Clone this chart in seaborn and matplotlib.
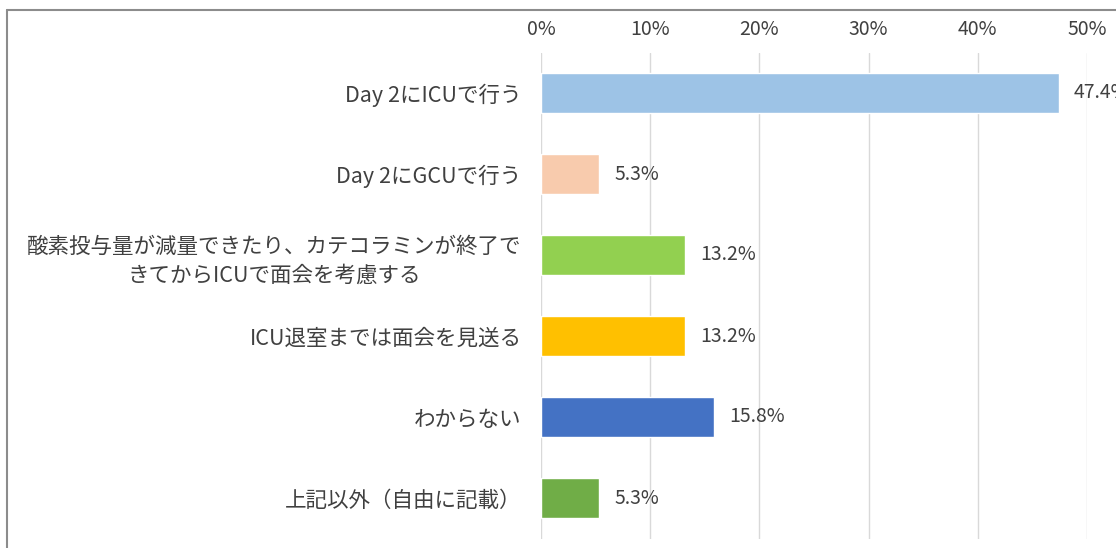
import matplotlib
matplotlib.use("Agg")
import matplotlib.pyplot as plt
from matplotlib.lines import Line2D
from matplotlib.ticker import FuncFormatter
import seaborn as sns
import pandas as pd

categories = [
    "Day 2にICUで行う",
    "Day 2にGCUで行う",
    "酸素投与量が減量できたり、カテコラミンが終了で\nきてからICUで面会を考慮する",
    "ICU退室までは面会を見送る",
    "わからない",
    "上記以外（自由に記載）",
]
values = [47.4, 5.3, 13.2, 13.2, 15.8, 5.3]
value_labels = ["47.4%", "5.3%", "13.2%", "13.2%", "15.8%", "5.3%"]
colors = ["#9DC3E6", "#F8CBAD", "#92D050", "#FFC000", "#4472C4", "#70AD47"]
xticks = [0, 10, 20, 30, 40, 50]

sns.set_theme(style="white")
plt.rcParams['font.family'] = ['Noto Sans CJK JP', 'DejaVu Sans']

df = pd.DataFrame({"cat": categories, "val": values})

W, H = 1116, 548
fig = plt.figure(figsize=(W / 100, H / 100), dpi=100)
ax = fig.add_axes([541 / W, 1 - 538.5 / H, 546 / W, (538.5 - 52.5) / H])

sns.barplot(data=df, x="val", y="cat", hue="cat", palette=colors,
            orient="h", width=0.5, legend=False, ax=ax, saturation=1)

ax.set_xlim(0, 50)
ax.set_ylim(len(categories) - 0.5, -0.5)
ax.set_xticks(xticks)
ax.xaxis.set_major_formatter(FuncFormatter(lambda v, p: f"{v:.0f}%"))
ax.xaxis.tick_top()
ax.tick_params(axis="x", length=0, pad=9, labelsize=14, labelcolor="#404040")
ax.tick_params(axis="y", length=0, pad=14, labelsize=15.5, labelcolor="#404040")
for lab in ax.get_yticklabels():
    lab.set_multialignment("center")
    lab.set_linespacing(1.45)
ax.set_xlabel("")
ax.set_ylabel("")
for s in ax.spines.values():
    s.set_visible(False)
ax.grid(axis="x", color="#D9D9D9", linewidth=1)
ax.set_axisbelow(True)

for i, (v, t) in enumerate(zip(values, value_labels)):
    ax.annotate(t, xy=(v, i), xytext=(11, 0), textcoords="offset points",
                va="center", ha="left", fontsize=14, color="#404040",
                annotation_clip=False)

# outer frame (partially visible)
fx0, fy0 = 7 / W, 1 - 10 / H
fig.add_artist(Line2D([fx0, fx0], [0, fy0], transform=fig.transFigure,
                      color="#8C8C8C", linewidth=1.5))
fig.add_artist(Line2D([fx0, 1], [fy0, fy0], transform=fig.transFigure,
                      color="#8C8C8C", linewidth=1.5))

fig.savefig("out.png", dpi=100)
